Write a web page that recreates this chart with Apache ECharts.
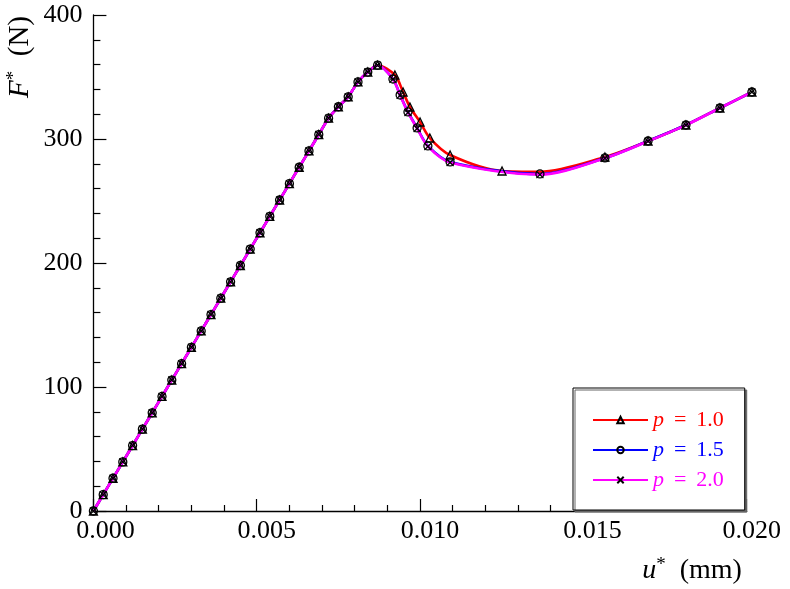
<!DOCTYPE html>
<html>
<head>
<meta charset="utf-8">
<title>F-u</title>
<script src="https://cdn.jsdelivr.net/npm/echarts@6/dist/echarts.min.js"></script>
<style>
html,body{margin:0;padding:0;background:#fff;}
#main{width:790px;height:589px;}
</style>
</head>
<body>
<div id="main"></div>
<script type="text/javascript">
// shared loading branch (all three p values coincide up to the peak)
var uPre = [0, 0.0003, 0.0006, 0.0009, 0.0012, 0.0015, 0.0018, 0.0021, 0.0024, 0.0027,
            0.0030, 0.0033, 0.0036, 0.0039, 0.0042, 0.0045, 0.0048, 0.0051, 0.0054, 0.0057,
            0.0060, 0.0063, 0.0066, 0.0069, 0.0072, 0.0075, 0.0078, 0.0081, 0.0084, 0.0087];
var fPre = [0, 13.2, 26.4, 39.6, 52.8, 66.0, 79.2, 92.4, 105.6, 118.8,
            132.0, 145.2, 158.4, 171.6, 184.8, 198.0, 211.2, 224.4, 237.6, 250.8,
            264.0, 277.2, 290.4, 303.6, 316.8, 326.0, 334.0, 346.0, 354.0, 359.5];

// softening branches (0 in the marks list = point on the curve without a mark)
var uP10 = [0.00923, 0.00948, 0.00969, 0.01000, 0.01030, 0.01092, 0.01251, 0.01367, 0.01566, 0.01698, 0.01814, 0.01918, 0.02016];
var fP10 = [351.6, 337.9, 325.8, 313.7, 300.8, 287.1, 274.2, 273.6, 285.5, 298.4, 311.3, 325.0, 337.9];
var mP10 = [1, 1, 1, 1, 1, 1, 1, 0, 1, 1, 1, 1, 1];
var uP15 = [0.00917, 0.00939, 0.00963, 0.00991, 0.01024, 0.01092, 0.01367, 0.01566, 0.01698, 0.01814, 0.01918, 0.02016];
var fP15 = [348.4, 335.5, 321.8, 308.9, 294.4, 281.5, 271.8, 284.7, 298.4, 311.3, 325.0, 337.9];
var uP20 = [0.00917, 0.00939, 0.00963, 0.00991, 0.01024, 0.01092, 0.01367, 0.01566, 0.01698, 0.01814, 0.01918, 0.02016];
var fP20 = [348.2, 335.2, 321.4, 308.5, 294.0, 281.0, 271.3, 284.5, 298.2, 311.2, 325.0, 337.9];

var pLabels = ['1.0', '1.5', '2.0'];
var xTicks = ['0.000', '0.005', '0.010', '0.015', '0.020'];

var FONT = 'Liberation Serif';

function curve(u, f, marks) {
	var pts = [];
	for (var i = 0; i < uPre.length; i++) pts.push([uPre[i], fPre[i]]);
	for (var j = 0; j < u.length; j++) {
		if (marks && !marks[j]) pts.push({value: [u[j], f[j]], symbol: 'none'});
		else pts.push([u[j], f[j]]);
	}
	return pts;
}

var myChart = echarts.init(document.getElementById('main'), null, {renderer: 'canvas'});

var markStyle = {color: 'rgba(0,0,0,0)', borderColor: '#000', borderWidth: 1.3};
var crossPath = 'path://M0,0L10,10M10,0L0,10';
var xRich = {};
var xPad = [24, 20, 20, 18, 10];
for (var k = 0; k < xTicks.length; k++) {
	xRich['a' + k] = {fontFamily: FONT, fontSize: 26, color: '#000', padding: [0, 0, 0, xPad[k]]};
}

var option = {
	animation: false,
	backgroundColor: '#fff',
	grid: {left: 93.4, right: 43.3, top: 15, bottom: 78, containLabel: false},
	xAxis: {
		type: 'value', min: 0, max: 0.020, interval: 0.005,
		axisLine: {lineStyle: {color: '#000', width: 1.3}},
		axisTick: {inside: true, length: 12, lineStyle: {color: '#000', width: 1.2}},
		minorTick: {show: true, splitNumber: 5, length: 6, lineStyle: {color: '#000', width: 1.2}},
		splitLine: {show: false},
		axisLabel: {
			margin: 7,
			formatter: function (v, i) {
				return '{a' + i + '|' + xTicks[i] + '}';
			},
			rich: xRich
		}
	},
	yAxis: {
		type: 'value', min: 0, max: 400, interval: 100,
		axisLine: {lineStyle: {color: '#000', width: 1.3}},
		axisTick: {inside: true, length: 13, lineStyle: {color: '#000', width: 1.2}},
		minorTick: {show: true, splitNumber: 5, length: 7, lineStyle: {color: '#000', width: 1.2}},
		splitLine: {show: false},
		axisLabel: {margin: 11, fontFamily: FONT, fontSize: 26, color: '#000'}
	},
	legend: {
		orient: 'vertical',
		left: 573, top: 388,
		width: 130,
		padding: [21, 21, 19, 19],
		itemWidth: 55, itemHeight: 8, itemGap: 8,
		backgroundColor: '#fff',
		borderColor: '#000', borderWidth: 1, borderRadius: 0,
		shadowColor: '#666', shadowOffsetX: 2, shadowOffsetY: 2, shadowBlur: 0,
		formatter: function (name) {
			return '{i|p} \u2009= \u2009' + name.split('= ')[1];
		},
		textStyle: {
			fontFamily: FONT, fontSize: 22, lineHeight: 20,
			rich: {i: {fontFamily: FONT, fontSize: 22, fontStyle: 'italic'}}
		},
		data: [
			{name: 'p = ' + pLabels[0], textStyle: {color: '#ff0000'}},
			{name: 'p = ' + pLabels[1], textStyle: {color: '#0000ff'}},
			{name: 'p = ' + pLabels[2], textStyle: {color: '#ff00ff'}}
		]
	},
	graphic: [
		{
			type: 'text', x: 20, y: 57, rotation: Math.PI / 2,
			style: {
				text: '{i|F}{s|*}  (N)', align: 'center', verticalAlign: 'middle',
				fontFamily: FONT, fontSize: 29, fill: '#000',
				rich: {
					i: {fontFamily: FONT, fontSize: 29, fontStyle: 'italic'},
					s: {fontFamily: FONT, fontSize: 19, verticalAlign: 'top', padding: [0, 0, 12, 0]}
				}
			}
		},
		{
			type: 'text', x: 692, y: 571,
			style: {
				text: '{i|u}{s|*}  (mm)', align: 'center', verticalAlign: 'middle',
				fontFamily: FONT, fontSize: 28, fill: '#000',
				rich: {
					i: {fontFamily: FONT, fontSize: 28, fontStyle: 'italic'},
					s: {fontFamily: FONT, fontSize: 19, verticalAlign: 'top', padding: [0, 0, 12, 0]}
				}
			}
		}
	],
	series: [
		{
			name: 'p = ' + pLabels[0], type: 'line', data: curve(uP10, fP10, mP10),
			smooth: 0.3, clip: false,
			symbol: 'triangle', symbolSize: 8,
			lineStyle: {color: '#ff0000', width: 2.6},
			itemStyle: markStyle
		},
		{
			name: 'p = ' + pLabels[1], type: 'line', data: curve(uP15, fP15),
			smooth: 0.3, clip: false,
			symbol: 'circle', symbolSize: 8,
			lineStyle: {color: '#0000ff', width: 2.6},
			itemStyle: markStyle
		},
		{
			name: 'p = ' + pLabels[2], type: 'line', data: curve(uP20, fP20),
			smooth: 0.3, clip: false,
			symbol: crossPath, symbolSize: 7,
			lineStyle: {color: '#ff00ff', width: 2.6},
			itemStyle: markStyle
		}
	]
};

myChart.setOption(option);
</script>
</body>
</html>
